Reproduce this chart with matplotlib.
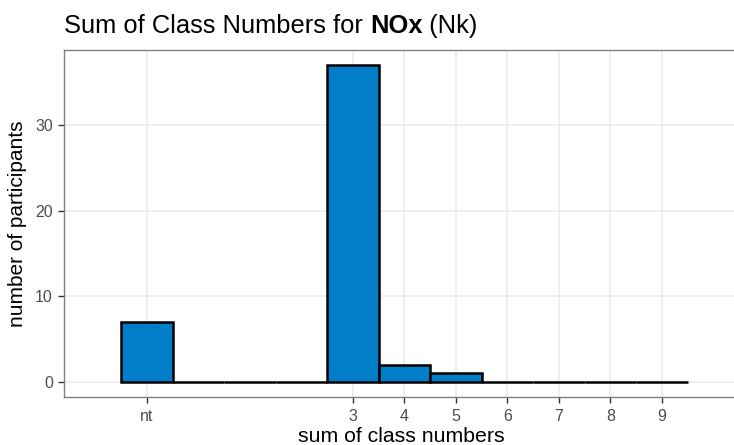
import matplotlib
matplotlib.use("Agg")
import matplotlib.pyplot as plt

plt.rcParams['font.family'] = ['Liberation Sans', 'DejaVu Sans']

# data: "nt" is coded as -1
bins = [-1, 0, 1, 2, 3, 4, 5, 6, 7, 8, 9]
counts = [7, 0, 0, 0, 37, 2, 1, 0, 0, 0, 0]
tick_pos = [-1, 3, 4, 5, 6, 7, 8, 9]
tick_labels = ['nt', '3', '4', '5', '6', '7', '8', '9']
y_ticks = [0, 10, 20, 30]

fig = plt.figure(figsize=(7.34, 4.45), dpi=100)
ax = fig.add_axes([64/734, 1 - 397/445, (738 - 64)/734, (397 - 50)/445])

ax.bar(bins, counts, width=1.0, color='#007FC8', edgecolor='black',
       linewidth=1.8, zorder=3)

ax.set_xlim(-2.61, 10.48)
ax.set_ylim(-1.75, 38.74)
ax.set_xticks(tick_pos)
ax.set_xticklabels(tick_labels)
ax.set_yticks(y_ticks)

ax.grid(True, color='#EBEBEB', linewidth=1.1, zorder=0)
for s in ax.spines.values():
    s.set_color('#7F7F7F')
    s.set_linewidth(1.0)
ax.tick_params(axis='both', colors='#333333', labelcolor='#4D4D4D',
               labelsize=11.5, length=4.5, width=1.0)
ax.tick_params(axis='x', pad=4)

ax.set_xlabel('sum of class numbers', fontsize=15.3, color='black', labelpad=2)
ax.set_ylabel('number of participants', fontsize=15, color='black', labelpad=6)

# title with bold part
fs = 18.4
t1 = fig.text(64/734, 1 - 33/445, 'Sum of Class Numbers for ', fontsize=fs,
              ha='left', va='baseline')
t2 = fig.text(0, 0, 'NOx', fontsize=fs, fontweight='bold')
t3 = fig.text(0, 0, ' (Nk)', fontsize=fs)
fig.canvas.draw()
r = fig.canvas.get_renderer()
bb = t1.get_window_extent(r)
t2.set_position((bb.x1 / fig.bbox.width, 1 - 33/445))
t2.set_va('baseline')
bb2 = t2.get_window_extent(r)
t3.set_position((bb2.x1 / fig.bbox.width, 1 - 33/445))
t3.set_va('baseline')

fig.savefig('out.png', dpi=100)
